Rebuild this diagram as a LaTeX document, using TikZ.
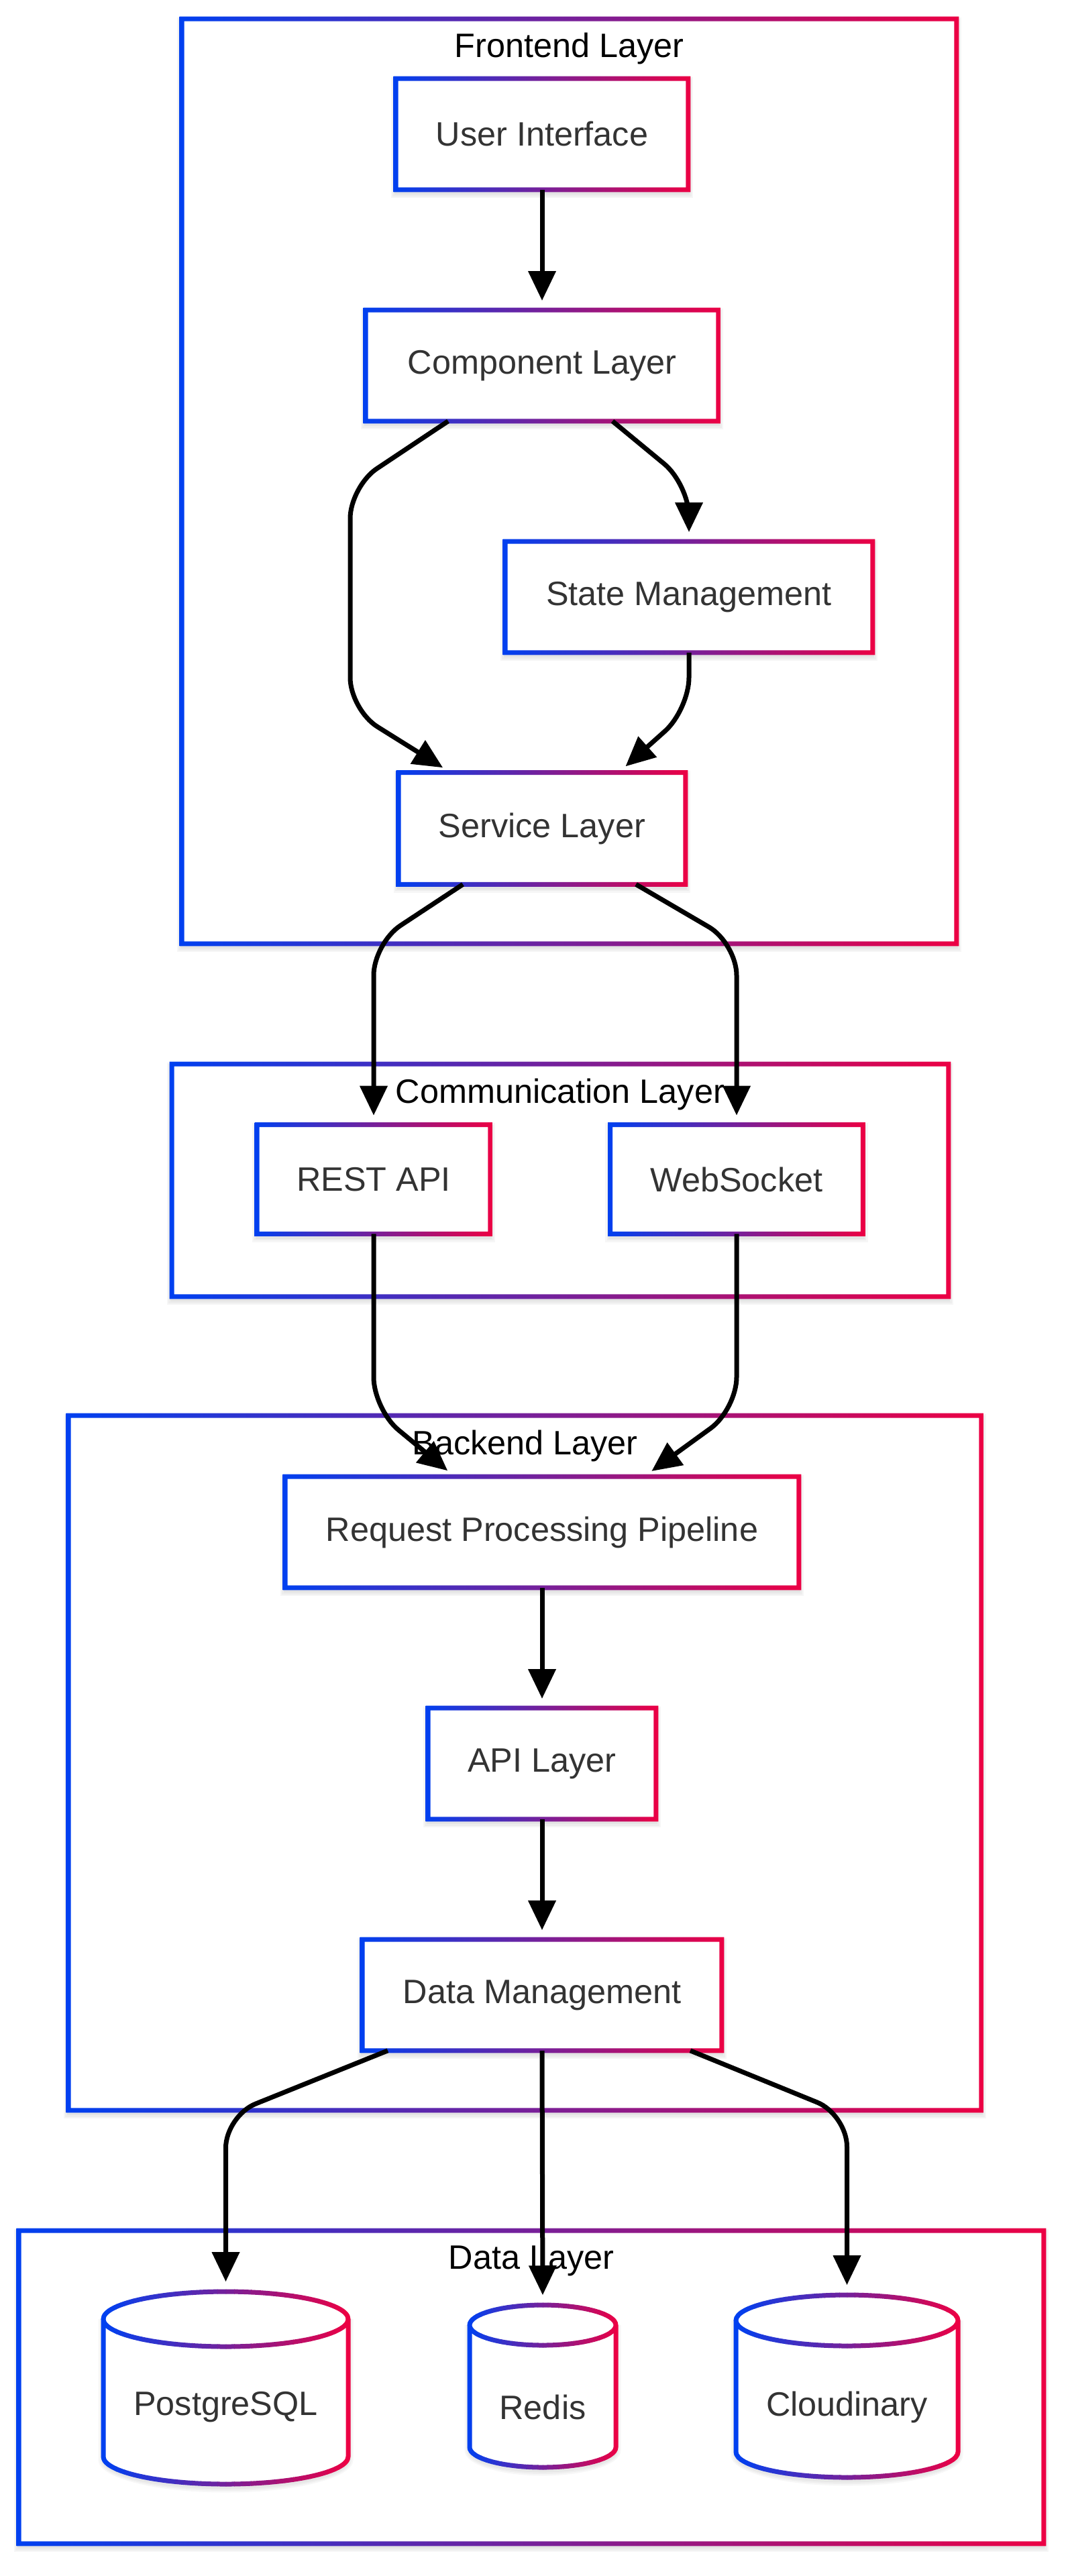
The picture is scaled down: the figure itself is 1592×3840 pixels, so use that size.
\documentclass[tikz,border=0pt]{standalone}
\usepackage{fontspec}
\setmainfont{Liberation Sans}
\usetikzlibrary{arrows.meta,calc}
\definecolor{gradB}{RGB}{0,64,240}
\definecolor{gradR}{RGB}{236,0,68}
\definecolor{txt}{HTML}{333333}
\pgfdeclarelayer{bgl}\pgfdeclarelayer{gsh}\pgfdeclarelayer{gfill}\pgfdeclarelayer{nsh}
\pgfsetlayers{bgl,gsh,gfill,nsh,main}
\tikzset{
  ntext/.style={font=\fontsize{12.6}{15}\selectfont, text=txt},
  gtext/.style={font=\fontsize{12.6}{15}\selectfont, text=black},
  boxnode/.style={ntext, fill=white, inner sep=0pt},
  framenode/.style={inner sep=0pt},
  edge/.style={line width=1.75pt, black, rounded corners=12pt, shorten >=3.5pt,
    -{Triangle[length=11pt,width=10pt]}},
}
\newcommand\shadowon[2]{%
  \begin{pgfonlayer}{#1}%
  \foreach \k in {1,2,3}{\fill[black,opacity=0.035] ($(#2.south west)+({-\k*2.5},{5+\k*2.5})$) rectangle ($(#2.north east)+({\k*2.5},{5-\k*2.5})$);}%
  \end{pgfonlayer}}
\newcommand\gradring[1]{%
  \shade[left color=gradB,right color=gradR,even odd rule]
   ($(#1.south west)+(-3.5,3.5)$) rectangle ($(#1.north east)+(3.5,-3.5)$)
   ($(#1.south west)+(3.5,-3.5)$) rectangle ($(#1.north east)+(-3.5,3.5)$);}
\newcommand\bx[6]{%
  \node[boxnode, minimum width={#4*0.25pt}, minimum height={#5*0.25pt}] (#1) at (#2,#3) {#6};
  \gradring{#1}\shadowon{nsh}{#1}}
\newcommand\grp[7]{% name cx cy w h labely label
  \node[framenode, minimum width={#4*0.25pt}, minimum height={#5*0.25pt}] (#1) at (#2,#3) {};
  \begin{pgfonlayer}{gfill}\fill[white] (#1.south west) rectangle (#1.north east);\end{pgfonlayer}
  \shadowon{gsh}{#1}\gradring{#1}
  \node[gtext] (#1lbl) at (#2,#6) {#7};}
\newcommand\dbcyl[8]{% name cx top w h ry texty text
  \pgfmathsetmacro\cxl{#2-#4/2}\pgfmathsetmacro\cxr{#2+#4/2}%
  \pgfmathsetmacro\ctop{#3+#6}\pgfmathsetmacro\cbot{#3+#5-#6}\pgfmathsetmacro\crx{#4/2}%
  \node[inner sep=0pt,minimum width={#4*0.25pt},minimum height={#5*0.25pt}] (#1) at (#2,{#3+#5/2}) {};
  \begin{pgfonlayer}{nsh}
  \foreach \k in {1,2,3}{\fill[black,opacity=0.03] ({\cxl-\k*2.5},\ctop) -- ({\cxl-\k*2.5},{\cbot+5}) arc[start angle=180,end angle=0,x radius={\crx+\k*2.5},y radius={#6+\k*2.5}] -- ({\cxr+\k*2.5},\ctop) -- cycle;}
  \end{pgfonlayer}
  \fill[white] (\cxl,\ctop) -- (\cxl,\cbot) arc[start angle=180,end angle=0,x radius=\crx,y radius=#6] -- (\cxr,\ctop) arc[start angle=0,end angle=-180,x radius=\crx,y radius=#6] -- cycle;
  \foreach \i in {0,...,29}{%
    \pgfmathtruncatemacro\pp{\i*100/29}%
    \begin{scope}
    \clip ({\cxl-6+\i*(#4+12)/30},{#3-10}) rectangle ++({(#4+12)/30+0.8},{#5+20});
    \draw[line width=1.75pt,color=gradR!\pp!gradB] (#2,\ctop) ellipse [x radius=\crx,y radius=#6]
      (\cxl,\ctop) -- (\cxl,\cbot) arc[start angle=180,end angle=0,x radius=\crx,y radius=#6] -- (\cxr,\ctop);
    \end{scope}}%
  \node[ntext] (#1txt) at (#2,#7) {#8};}

\begin{document}
\begin{tikzpicture}[x=0.25pt,y=-0.25pt]
\useasboundingbox (0,0) rectangle (1592,3840);
\begin{pgfonlayer}{bgl}\fill[white] (0,0) rectangle (1592,3840);\end{pgfonlayer}

% groups
\grp{fe}{848.5}{717.5}{1153}{1377}{72}{Frontend Layer}
\grp{cl}{835}{1759.5}{1156}{345}{1631}{Communication Layer}
\grp{be}{782.5}{2628}{1359}{1034}{2155}{Backend Layer}
\grp{dl}{792}{3558.5}{1526}{465}{3370}{Data Layer}

% nodes
\bx{ui}{808}{200}{434}{164}{User Interface}
\bx{comp}{808}{545}{524}{164}{Component Layer}
\bx{state}{1027}{890}{546}{164}{State Management}
\bx{svc}{808}{1235}{426}{165}{Service Layer}
\bx{rest}{557}{1758}{346}{161}{REST API}
\bx{ws}{1098}{1758}{375}{161}{WebSocket}
\bx{rpp}{808}{2284}{764}{164}{Request Processing Pipeline}
\bx{api}{808}{2629}{338}{164}{API Layer}
\bx{dm}{808}{2974}{534}{164}{Data Management}

% databases
\dbcyl{pg}{336.5}{3416}{365}{287}{41}{3588}{PostgreSQL}
\dbcyl{redis}{809}{3436}{218}{242}{30}{3588}{Redis}
\dbcyl{cloud}{1262.5}{3421}{331}{272}{38}{3588}{Cloudinary}

% edges
\draw[edge] (ui.south) -- (comp.north);
\draw[edge] ($(comp.south)+(105,0)$) -- (1027,722) -- (state.north);
\draw[edge] ($(comp.south)+(-140,0)$) -- (522,725) -- (522,1058) -- ($(svc.north)+(-136,0)$);
\draw[edge] (state.south) -- (1027,1058) -- ($(svc.north)+(114,0)$);
\draw[edge] ($(svc.south)+(-118,0)$) -- (557,1406) -- (rest.north);
\draw[edge] ($(svc.south)+(140,0)$) -- (1098,1406) -- (ws.north);
\draw[edge] (rest.south) -- (557,2101) -- ($(rpp.north)+(-130,0)$);
\draw[edge] (ws.south) -- (1098,2101) -- ($(rpp.north)+(152,0)$);
\draw[edge] (rpp.south) -- (api.north);
\draw[edge] (api.south) -- (dm.north);
\draw[edge] ($(dm.south)+(-230,0)$) -- (336.5,3154) -- (pg.north);
\draw[edge] (dm.south) -- (redis.north);
\draw[edge] ($(dm.south)+(221,0)$) -- (1262.5,3152) -- (cloud.north);
\end{tikzpicture}
\end{document}
